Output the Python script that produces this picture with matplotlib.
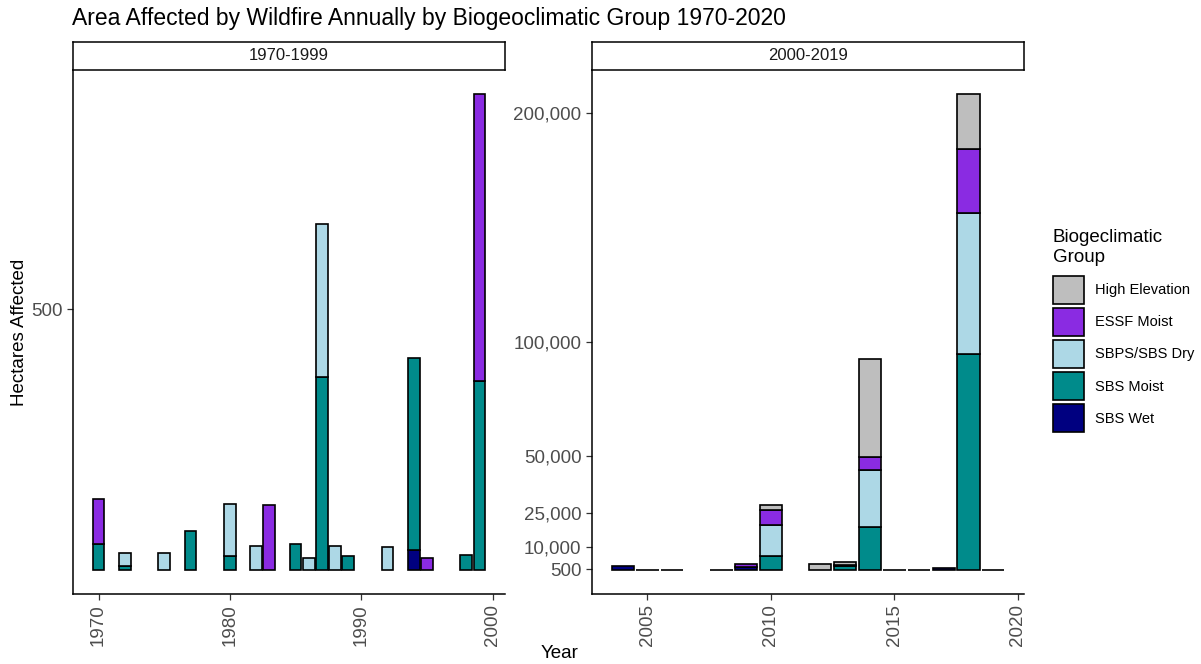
import matplotlib
matplotlib.use("Agg")
import matplotlib.pyplot as plt
from matplotlib.patches import Patch
from matplotlib.ticker import FuncFormatter
import numpy as np

plt.rcParams['font.family'] = ['Liberation Sans', 'DejaVu Sans']

# data (hectares)
groups = ["SBS Wet", "SBS Moist", "SBPS/SBS Dry", "ESSF Moist", "High Elevation"]
colors = {"SBS Wet": "#000080", "SBS Moist": "#008B8B", "SBPS/SBS Dry": "#ADD8E6",
          "ESSF Moist": "#8A2BE2", "High Elevation": "#BEBEBE"}

years_early = [1970, 1972, 1975, 1977, 1980, 1982, 1983, 1985, 1986, 1987, 1988, 1989,
               1992, 1994, 1995, 1998, 1999]
wet_early   = [0, 0, 0, 0, 0, 0, 0, 0, 0, 0, 0, 0, 0, 38, 0, 0, 0]
moist_early = [51, 8, 0, 75, 27, 0, 0, 51, 0, 370, 0, 27, 0, 369, 0, 29, 363]
dry_early   = [0, 25, 33, 0, 99, 46, 0, 0, 24, 294, 46, 0, 45, 0, 0, 0, 0]
essf_early  = [86, 0, 0, 0, 0, 0, 124, 0, 0, 0, 0, 0, 0, 0, 24, 0, 550]
high_early  = [0] * len(years_early)

years_late = [2004, 2005, 2006, 2008, 2009, 2010, 2012, 2013, 2014, 2015, 2016, 2017, 2018, 2019]
wet_late   = [1800, 0, 0, 0, 1500, 0, 0, 0, 0, 0, 0, 900, 0, 0]
moist_late = [0, 200, 200, 200, 0, 6200, 0, 1800, 19000, 200, 200, 0, 94600, 200]
dry_late   = [0, 0, 0, 0, 0, 13600, 0, 600, 24800, 0, 0, 0, 62000, 0]
essf_late  = [0, 0, 0, 0, 1400, 6500, 0, 0, 5800, 0, 0, 0, 28000, 0]
high_late  = [0, 0, 0, 0, 0, 2100, 2700, 1100, 42700, 0, 0, 0, 24000, 0]

y_breaks = [500, 10000, 25000, 50000, 100000, 200000]

W, H = 1201, 664
fig = plt.figure(figsize=(W / 100, H / 100), dpi=100)


def px_axes(x0, y0, x1, y1):
    return fig.add_axes([x0 / W, 1 - y1 / H, (x1 - x0) / W, (y1 - y0) / H])


def draw_panel(ax, years, series, xticks, strip_label, strip_box):
    years = np.array(years)
    bottom = np.zeros(len(years))
    for g, vals in zip(groups, series):
        vals = np.array(vals, dtype=float)
        m = vals > 0
        ax.bar(years[m], vals[m], width=0.9, bottom=bottom[m], color=colors[g],
               edgecolor="black", linewidth=1.2)
        bottom += vals
    ax.set_xticks(xticks)
    ax.set_yticks(y_breaks)
    top = bottom.max()
    ax.set_ylim(-0.05 * top, 1.05 * top)
    lo, hi = years.min() - 0.45, years.max() + 0.45
    pad = 0.05 * (hi - lo)
    ax.set_xlim(lo - pad, hi + pad)
    ax.yaxis.set_major_formatter(FuncFormatter(lambda v, p: f"{int(v):,}"))
    ax.tick_params(axis="x", labelrotation=90, labelsize=13.5, colors="#333333",
                   labelcolor="#4D4D4D", length=4, width=0.9)
    ax.tick_params(axis="y", labelsize=13.5, colors="#333333",
                   labelcolor="#4D4D4D", length=4, width=0.9)
    for s in ["top", "right"]:
        ax.spines[s].set_visible(False)
    for s in ["left", "bottom"]:
        ax.spines[s].set_linewidth(1.1)
        ax.spines[s].set_color("black")
    # facet strip
    sax = px_axes(*strip_box)
    sax.set_xticks([])
    sax.set_yticks([])
    for s in sax.spines.values():
        s.set_linewidth(1.1)
    sax.text(0.5, 0.5, strip_label, ha="center", va="center", fontsize=12, color="#1A1A1A")


ax1 = px_axes(73, 70, 505, 594)
draw_panel(ax1, years_early,
           [wet_early, moist_early, dry_early, essf_early, high_early],
           [1970, 1980, 1990, 2000], "1970-1999", (73, 42, 505, 70))

ax2 = px_axes(592, 70, 1024, 594)
draw_panel(ax2, years_late,
           [wet_late, moist_late, dry_late, essf_late, high_late],
           [2005, 2010, 2015, 2020], "2000-2019", (592, 42, 1024, 70))

fig.text(72 / W, 1 - 18 / H, "Area Affected by Wildfire Annually by Biogeoclimatic Group 1970-2020",
         ha="left", va="center", fontsize=16.5)
fig.text(19 / W, 1 - 332 / H, "Hectares Affected", rotation=90, ha="center", va="center", fontsize=13.5)
fig.text(560 / W, 1 - 654 / H, "Year", ha="center", va="center", fontsize=13.5)

# legend: title as its own text, keys below
fig.text(1053 / W, 1 - 229 / H, "Biogeclimatic\nGroup", ha="left", va="top",
         fontsize=13.5, linespacing=1.2)
handles = [Patch(facecolor=colors[g], edgecolor="black", linewidth=1.2) for g in groups[::-1]]
leg = fig.legend(handles, groups[::-1], loc="upper left", bbox_to_anchor=(1050 / W, 1 - 273 / H),
                 frameon=False, fontsize=10.5, handlelength=2.1, handleheight=2.55,
                 labelspacing=0.3, handletextpad=0.8, borderpad=0.2, borderaxespad=0)

fig.savefig("out.png", dpi=100)
